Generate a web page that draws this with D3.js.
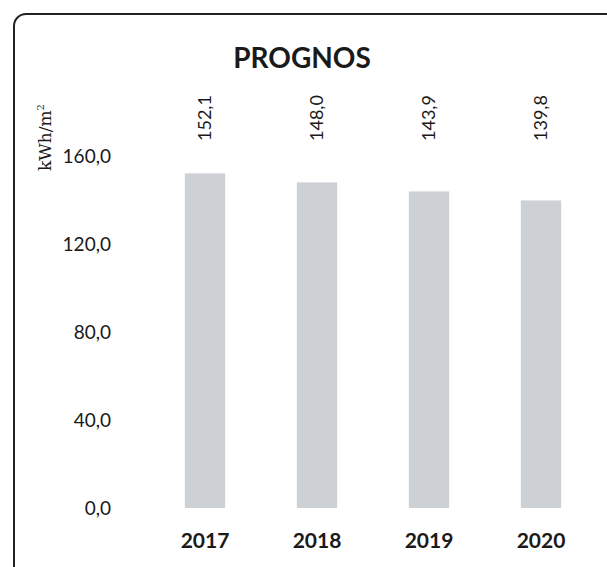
<!DOCTYPE html>
<html>
<head>
<meta charset="utf-8">
<script src="https://cdnjs.cloudflare.com/ajax/libs/d3/7.8.5/d3.min.js"></script>
<style>
  body { margin: 0; background: #fff; }
  svg { display: block; }
</style>
</head>
<body>
<div id="chart"></div>
<script>
const years = ['2017', '2018', '2019', '2020'];
const values = [152.1, 148.0, 143.9, 139.8];
const yTickValues = [0, 40, 80, 120, 160];
const titleText = 'PROGNOS';
const yLabel = 'kWh/m';

const width = 607, height = 567;
const fmt = v => d3.format('.1f')(v).replace('.', ',');

const svg = d3.select('#chart').append('svg')
  .attr('width', width)
  .attr('height', height);

// frame, cut off on right and bottom like the scan
svg.append('rect')
  .attr('x', 14).attr('y', 14)
  .attr('width', 640).attr('height', 620)
  .attr('rx', 12)
  .attr('fill', 'none')
  .attr('stroke', '#222')
  .attr('stroke-width', 2);

const xScale = d3.scaleBand()
  .domain(years)
  .range([149, 597])
  .paddingInner(0.64)
  .paddingOuter(0.32);

const yScale = d3.scaleLinear()
  .domain([0, 160])
  .range([508, 156]);

const font = "Lato, 'Open Sans', sans-serif";

svg.append('text')
  .attr('x', 302).attr('y', 68)
  .attr('text-anchor', 'middle')
  .style('font-family', font)
  .style('font-weight', 'bold')
  .style('font-size', '28px')
  .attr('fill', '#1a1a1a')
  .text(titleText);

const yAxis = d3.axisLeft(yScale)
  .tickValues(yTickValues)
  .tickFormat(fmt)
  .tickSize(0)
  .tickPadding(0);

const yAxisG = svg.append('g')
  .attr('transform', 'translate(111,0)')
  .call(yAxis);
yAxisG.select('.domain').remove();
yAxisG.selectAll('text')
  .style('font-family', font)
  .style('font-size', '19px')
  .attr('fill', '#1a1a1a');

const xAxis = d3.axisBottom(xScale).tickSize(0).tickPadding(0);
const xAxisG = svg.append('g')
  .attr('transform', 'translate(0,533)')
  .call(xAxis);
xAxisG.select('.domain').remove();
xAxisG.selectAll('text')
  .style('font-family', font)
  .style('font-weight', 'bold')
  .style('font-size', '21px')
  .attr('fill', '#1a1a1a');

svg.selectAll('.bar')
  .data(values)
  .enter().append('rect')
  .attr('class', 'bar')
  .attr('x', (d, i) => xScale(years[i]))
  .attr('y', d => yScale(d))
  .attr('width', xScale.bandwidth())
  .attr('height', d => yScale(0) - yScale(d))
  .attr('fill', '#cdd0d4');

svg.selectAll('.val')
  .data(values)
  .enter().append('text')
  .attr('class', 'val')
  .attr('transform', (d, i) => `translate(${xScale(years[i]) + xScale.bandwidth() / 2 + 6},141) rotate(-90)`)
  .style('font-family', font)
  .style('font-size', '18px')
  .attr('fill', '#1a1a1a')
  .text(d => fmt(d));

const yl = svg.append('text')
  .attr('transform', 'translate(51,171) rotate(-90)')
  .style('font-family', "'DejaVu Serif', serif")
  .style('font-size', '17px')
  .attr('fill', '#1a1a1a');
yl.append('tspan').text(yLabel);
yl.append('tspan').attr('dy', -7).style('font-size', '10px').text('2');
</script>
</body>
</html>
